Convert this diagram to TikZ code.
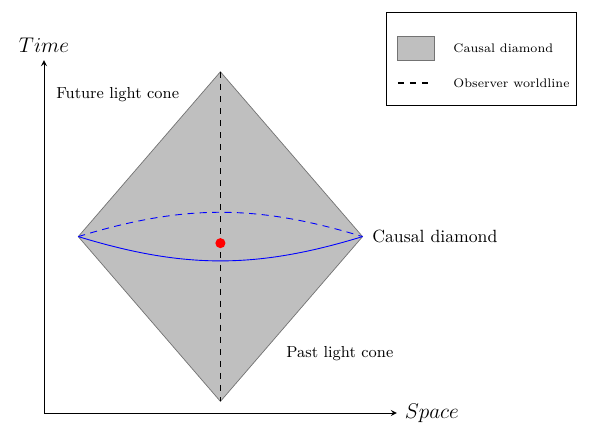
\documentclass[tikz,border=0pt]{standalone}
\usetikzlibrary{positioning}

\tikzset{
  conefill/.style={fill=gray!50,draw=gray!90!black,line width=0.4pt},
  worldline/.style={line width=1pt,dash pattern=on 3.4pt off 3.4pt},
  horizon/.style={blue,line width=0.5pt},
  legendtext/.style={font=\scriptsize,anchor=west}
}

\begin{document}
\begin{tikzpicture}[line cap=butt,line join=miter,>=stealth]
  \useasboundingbox (-0.873,-0.595) rectangle (10.833,8.194);
  \def\cx{3.5}
  \def\cy{3.5}
  \def\hw{2.82}
  \def\hh{3.27}
  % 坐标轴
  \coordinate (O) at (0,0);
  \coordinate (tTip) at (0,7.0);
  \coordinate (xTip) at (7.0,0);
  \draw[->,line width=0.5pt] (O) -- (tTip);
  \draw[->,line width=0.5pt] (O) -- (xTip);
  \node[above=1pt of tTip,font=\large] (tLab) {$Time$};
  \node[right=1pt of xTip,font=\large] (xLab) {$Space$};
  % 因果菱形
  \coordinate (top) at (\cx,{\cy+\hh});
  \coordinate (bot) at (\cx,{\cy-\hh});
  \coordinate (lft) at ({\cx-\hw},\cy);
  \coordinate (rgt) at ({\cx+\hw},\cy);
  \draw[conefill] (top) -- (rgt) -- (bot) -- (lft) -- cycle;
  % 视界截面
  \draw[horizon,dash pattern=on 4pt off 3pt] (lft) to[bend left=17] (rgt);
  \draw[horizon] (lft) to[bend right=17] (rgt);
  % 观察者世界线
  \draw[worldline] (top) -- (bot);
  \fill[red] (\cx,3.37) circle[radius=0.1];
  % 标注
  \node[anchor=west,font=\small] (future) at (0.12,6.31) {Future light cone};
  \node[right=2pt of rgt] (cdLab) {Causal diamond};
  \node[font=\small] (past) at (5.87,1.17) {Past light cone};
  % 图例
  \draw[line width=0.5pt] (6.8,6.1) rectangle (10.57,7.95);
  \draw[conefill] (7.02,7.0) rectangle (7.74,7.48);
  \node[legendtext] (legA) at (8.0,7.24) {Causal diamond};
  \draw[worldline] (7.02,6.55) -- (7.66,6.55);
  \node[legendtext] (legB) at (8.0,6.55) {Observer worldline};
\end{tikzpicture}
\end{document}
